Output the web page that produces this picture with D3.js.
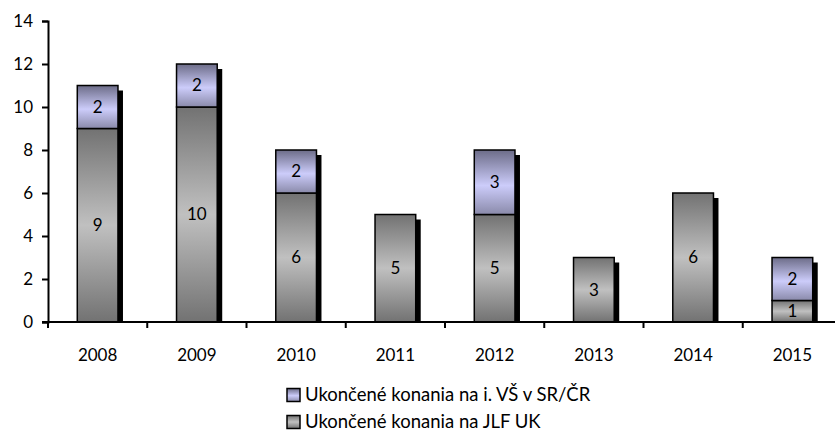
<!DOCTYPE html>
<html>
<head>
<meta charset="utf-8">
<script src="https://cdn.jsdelivr.net/npm/d3@7"></script>
<style>
  body { margin: 0; background: #fff; }
  text { font-family: Lato, "Open Sans", sans-serif; fill: #000; }
</style>
</head>
<body>
<script>
var years = ["2008", "2009", "2010", "2011", "2012", "2013", "2014", "2015"];
var jlf = [9, 10, 6, 5, 5, 3, 6, 1];
var other = [2, 2, 2, 0, 3, 0, 0, 2];
var yTicks = [0, 2, 4, 6, 8, 10, 12, 14];
var legendLabels = ["Ukončené konania na i. VŠ v SR/ČR", "Ukončené konania na JLF UK"];

var w = 835, h = 432;
var margin = { left: 48, top: 21, bottom: 110 };
var plotRight = 842;

var svg = d3.select("body").append("svg")
  .attr("width", w)
  .attr("height", h);

var defs = svg.append("defs");

var grayGrad = defs.append("linearGradient")
  .attr("id", "gray").attr("x1", 0).attr("y1", 0).attr("x2", 0).attr("y2", 1);
grayGrad.append("stop").attr("offset", "0%").attr("stop-color", "#727272");
grayGrad.append("stop").attr("offset", "50%").attr("stop-color", "#c0c0c0");
grayGrad.append("stop").attr("offset", "100%").attr("stop-color", "#727272");

var purpleGrad = defs.append("linearGradient")
  .attr("id", "purple").attr("x1", 0).attr("y1", 0).attr("x2", 0).attr("y2", 1);
purpleGrad.append("stop").attr("offset", "0%").attr("stop-color", "#6c6c88");
purpleGrad.append("stop").attr("offset", "55%").attr("stop-color", "#ccccfa");
purpleGrad.append("stop").attr("offset", "100%").attr("stop-color", "#8a8aaa");

var x = d3.scaleBand()
  .domain(years)
  .range([margin.left, plotRight])
  .paddingInner(0.59)
  .paddingOuter(0.295);

var y = d3.scaleLinear()
  .domain([0, 14])
  .range([322, margin.top]);

var bars = years.map(function (yr, i) {
  return { year: yr, jlf: jlf[i], other: other[i], total: jlf[i] + other[i] };
});

// shadows
svg.append("g").selectAll("rect")
  .data(bars)
  .enter().append("rect")
  .attr("x", function (d) { return x(d.year) + 5; })
  .attr("y", function (d) { return y(d.total) + 5; })
  .attr("width", x.bandwidth())
  .attr("height", function (d) { return y(0) - y(d.total) - 5; })
  .attr("fill", "#000");

// JLF segments
svg.append("g").selectAll("rect")
  .data(bars)
  .enter().append("rect")
  .attr("x", function (d) { return x(d.year); })
  .attr("y", function (d) { return y(d.jlf); })
  .attr("width", x.bandwidth())
  .attr("height", function (d) { return y(0) - y(d.jlf); })
  .attr("fill", "url(#gray)")
  .attr("stroke", "#000")
  .attr("stroke-width", 1.5);

// other school segments
svg.append("g").selectAll("rect")
  .data(bars.filter(function (d) { return d.other > 0; }))
  .enter().append("rect")
  .attr("x", function (d) { return x(d.year); })
  .attr("y", function (d) { return y(d.total); })
  .attr("width", x.bandwidth())
  .attr("height", function (d) { return y(d.jlf) - y(d.total); })
  .attr("fill", "url(#purple)")
  .attr("stroke", "#000")
  .attr("stroke-width", 1.5);

// value labels
var labels = svg.append("g").attr("font-size", 17).attr("text-anchor", "middle");
bars.forEach(function (d) {
  labels.append("text")
    .attr("x", x(d.year) + x.bandwidth() / 2)
    .attr("y", (y(0) + y(d.jlf)) / 2)
    .attr("dy", "0.35em")
    .text(d.jlf);
  if (d.other > 0) {
    labels.append("text")
      .attr("x", x(d.year) + x.bandwidth() / 2)
      .attr("y", (y(d.jlf) + y(d.total)) / 2)
      .attr("dy", "0.35em")
      .text(d.other);
  }
});

// y axis
var yAxis = svg.append("g")
  .attr("transform", "translate(" + margin.left + ",0)")
  .call(d3.axisLeft(y).tickValues(yTicks).tickSize(6).tickPadding(9));
yAxis.select(".domain").attr("stroke-width", 2);
yAxis.selectAll(".tick line").attr("stroke-width", 2);
yAxis.selectAll("text").attr("font-size", 17).attr("font-family", "Lato, sans-serif");

// x axis
var xAxis = svg.append("g")
  .attr("transform", "translate(0," + y(0) + ")");
xAxis.append("line")
  .attr("x1", margin.left - 6).attr("x2", w)
  .attr("stroke", "#000").attr("stroke-width", 2);
xAxis.selectAll("line.tk")
  .data(d3.range(0, years.length))
  .enter().append("line")
  .attr("class", "tk")
  .attr("x1", function (i) { return margin.left + i * x.step(); })
  .attr("x2", function (i) { return margin.left + i * x.step(); })
  .attr("y1", 0).attr("y2", 6)
  .attr("stroke", "#000").attr("stroke-width", 2);
xAxis.selectAll("text")
  .data(years)
  .enter().append("text")
  .attr("x", function (d) { return x(d) + x.bandwidth() / 2; })
  .attr("y", 39)
  .attr("text-anchor", "middle")
  .attr("font-size", 17)
  .text(function (d) { return d; });

// legend
var legend = svg.append("g").attr("transform", "translate(287,0)");
var legendFills = ["url(#purple)", "url(#gray)"];
legendLabels.forEach(function (lbl, i) {
  var ly = 395 + i * 27;
  legend.append("rect")
    .attr("x", 0).attr("y", ly - 6.5)
    .attr("width", 13).attr("height", 13)
    .attr("fill", legendFills[i])
    .attr("stroke", "#000").attr("stroke-width", 1.5);
  legend.append("text")
    .attr("x", 18).attr("y", ly)
    .attr("dy", "0.35em")
    .attr("font-size", 18.5)
    .text(lbl);
});
</script>
</body>
</html>
